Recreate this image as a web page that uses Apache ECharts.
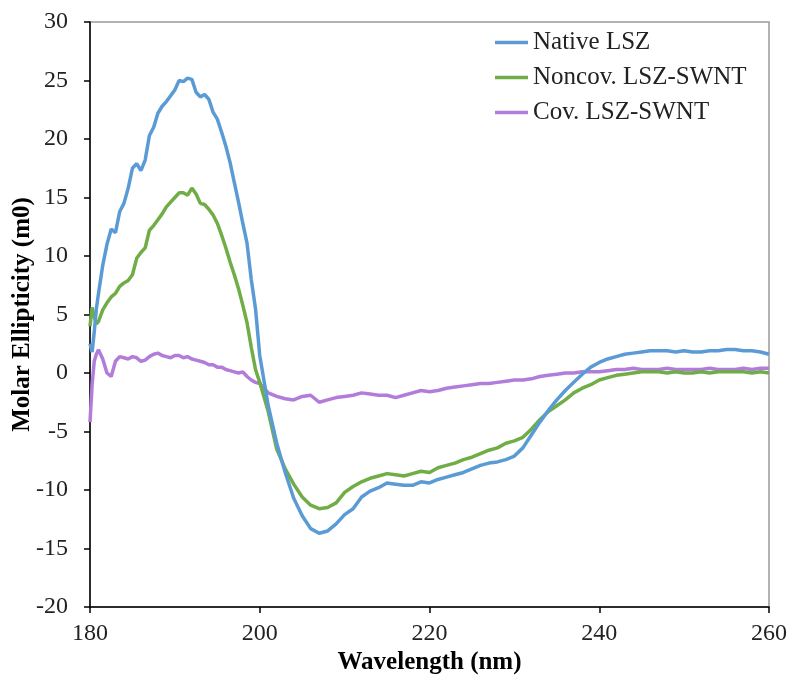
<!DOCTYPE html>
<html>
<head>
<meta charset="utf-8">
<script src="https://cdn.jsdelivr.net/npm/echarts@6/dist/echarts.min.js"></script>
<style>html,body{margin:0;padding:0;background:#fff}#c{width:790px;height:677px}</style>
</head>
<body>
<div id="c"></div>
<script>
var wavelengths = [180,180.25,180.5,180.75,181,181.5,182,182.5,183,183.5,184,184.5,185,185.5,186,186.5,187,187.5,188,188.5,189,189.5,190,190.5,191,191.5,192,192.5,193,193.5,194,194.5,195,195.5,196,196.5,197,197.5,198,198.5,199,199.5,200,
201,202,203,204,205,206,207,208,209,210,211,212,213,214,215,216,217,218,219,220,221,222,223,224,225,226,227,228,229,230,231,232,233,234,235,236,237,238,239,240,241,242,243,244,245,246,247,248,249,250,251,252,253,254,255,256,257,258,259,260];

var nativeLSZ = [2.5,1.8,3.5,5.5,6.8,9.2,11.0,12.3,12.0,13.8,14.5,15.8,17.5,17.9,17.3,18.2,20.3,21.0,22.2,22.8,23.2,23.7,24.2,25.0,24.9,25.2,25.1,24.0,23.6,23.8,23.4,22.3,21.7,20.6,19.4,18.0,16.3,14.6,12.8,11.1,8.0,5.5,1.5,
-2.8,-6.0,-8.5,-10.7,-12.2,-13.3,-13.7,-13.5,-12.9,-12.1,-11.6,-10.6,-10.1,-9.8,-9.4,-9.5,-9.6,-9.6,-9.3,-9.4,-9.1,-8.9,-8.7,-8.5,-8.2,-7.9,-7.7,-7.6,-7.4,-7.1,-6.4,-5.3,-4.2,-3.2,-2.3,-1.5,-0.8,-0.1,0.5,0.9,1.2,1.4,1.6,1.7,1.8,1.9,1.9,1.9,1.8,1.9,1.8,1.8,1.9,1.9,2.0,2.0,1.9,1.9,1.8,1.6];

var noncovLSZ = [4.0,5.6,4.8,4.2,4.4,5.4,6.0,6.5,6.8,7.4,7.7,7.9,8.4,9.8,10.3,10.7,12.2,12.6,13.1,13.6,14.2,14.6,15.0,15.4,15.4,15.2,15.8,15.3,14.5,14.4,14.0,13.5,12.8,11.8,10.7,9.5,8.4,7.2,5.8,4.3,2.2,0.3,-0.8,
-3.3,-6.5,-8.2,-9.5,-10.6,-11.3,-11.6,-11.5,-11.1,-10.2,-9.7,-9.3,-9.0,-8.8,-8.6,-8.7,-8.8,-8.6,-8.4,-8.5,-8.1,-7.9,-7.7,-7.4,-7.2,-6.9,-6.6,-6.4,-6.0,-5.8,-5.5,-4.8,-4.0,-3.3,-2.8,-2.3,-1.7,-1.3,-1.0,-0.6,-0.4,-0.2,-0.1,0.0,0.1,0.1,0.1,0.0,0.1,0.0,0.0,0.1,0.0,0.1,0.1,0.1,0.1,0.0,0.1,0.0];

var covLSZ = [-4.2,-1.0,1.0,1.6,2.0,1.2,0.0,-0.3,1.0,1.4,1.3,1.2,1.4,1.3,1.0,1.1,1.4,1.6,1.7,1.5,1.4,1.3,1.5,1.5,1.3,1.4,1.2,1.1,1.0,0.9,0.7,0.7,0.5,0.5,0.3,0.2,0.1,0.0,0.1,-0.3,-0.6,-0.8,-0.9,
-1.7,-2.0,-2.2,-2.3,-2.0,-1.9,-2.5,-2.3,-2.1,-2.0,-1.9,-1.7,-1.8,-1.9,-1.9,-2.1,-1.9,-1.7,-1.5,-1.6,-1.5,-1.3,-1.2,-1.1,-1.0,-0.9,-0.9,-0.8,-0.7,-0.6,-0.6,-0.5,-0.3,-0.2,-0.1,0.0,0.0,0.1,0.1,0.1,0.2,0.3,0.3,0.4,0.3,0.3,0.3,0.4,0.3,0.3,0.3,0.3,0.4,0.3,0.3,0.3,0.4,0.3,0.4,0.4];

var seriesNames = ['Native LSZ','Noncov. LSZ-SWNT','Cov. LSZ-SWNT'];
var seriesColors = ['#5B9BD5','#70AD47','#B27CDA'];
var seriesValues = [nativeLSZ, noncovLSZ, covLSZ];

function pairs(vals){ return wavelengths.map(function(w,i){ return [w, vals[i]]; }); }

var FONT = '"Liberation Serif","Times New Roman",serif';
var chart = echarts.init(document.getElementById('c'), null, {renderer:'canvas'});
chart.setOption({
  animation:false,
  backgroundColor:'#fff',
  grid:{left:90,right:21,top:22,bottom:70,containLabel:false,outerBoundsMode:'none',show:true,borderColor:'#9a9a9a',borderWidth:1.5,backgroundColor:'transparent'},
  legend:{
    orient:'vertical', left:495, top:30, itemGap:10, padding:0,
    icon:'rect', itemWidth:33, itemHeight:3.5,
    textStyle:{fontFamily:FONT,fontSize:25,color:'#222'},
    data:seriesNames
  },
  xAxis:{
    type:'value', min:180, max:260, interval:20,
    name:'Wavelength (nm)', nameLocation:'middle', nameGap:43, nameMoveOverlap:false,
    nameTextStyle:{fontFamily:FONT,fontSize:25,fontWeight:'bold',color:'#000'},
    axisLine:{show:true,onZero:false,lineStyle:{color:'#000',width:1.5}},
    axisTick:{show:true,inside:false,length:6,lineStyle:{color:'#000',width:1.5}},
    axisLabel:{fontFamily:FONT,fontSize:24,color:'#222',margin:15},
    splitLine:{show:false}
  },
  yAxis:{
    type:'value', min:-20, max:30, interval:5,
    name:'Molar Ellipticity (m0)', nameLocation:'middle', nameGap:55, nameRotate:90, nameMoveOverlap:false,
    nameTextStyle:{fontFamily:FONT,fontSize:25,fontWeight:'bold',color:'#000'},
    axisLine:{show:true,onZero:false,lineStyle:{color:'#000',width:1.5}},
    axisTick:{show:true,inside:false,length:6,lineStyle:{color:'#000',width:1.5}},
    axisLabel:{fontFamily:FONT,fontSize:24,color:'#222',margin:22},
    splitLine:{show:false}
  },
  series: seriesNames.map(function(n,i){
    return {
      name:n, type:'line', data:pairs(seriesValues[i]),
      showSymbol:false, symbol:'none', smooth:false,
      lineStyle:{color:seriesColors[i],width:3.5},
      itemStyle:{color:seriesColors[i]},
      z: 3-i
    };
  })
});
</script>
</body>
</html>
